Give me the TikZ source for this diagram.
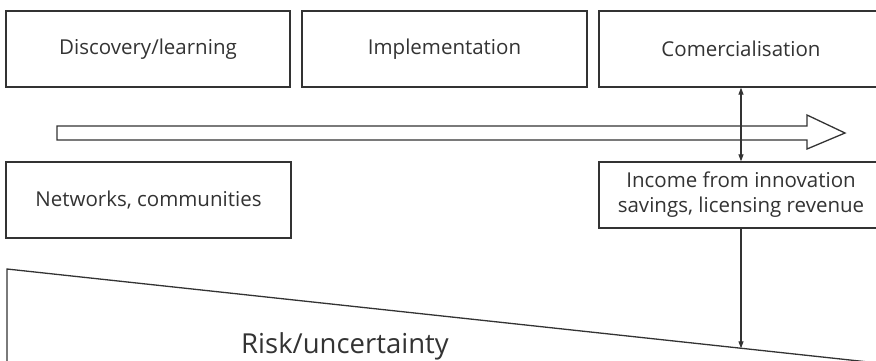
\documentclass[tikz,border=0pt]{standalone}
\usepackage{fontspec}
\setmainfont{Open Sans}
\usetikzlibrary{arrows.meta}
\definecolor{ink}{HTML}{333333}
\begin{document}
\begin{tikzpicture}[x=1pt,y=-1pt,
  box/.style={draw=ink, line width=1.3pt, fill=white, inner sep=0pt,
              align=center, font=\fontsize{20.5}{25}\selectfont, text=ink},
  link/.style={draw=ink, line width=1.1pt,
               arrows={-Triangle[length=7pt,width=5pt]}},
  biglabel/.style={font=\fontsize{27.5}{32}\selectfont, text=ink, inner sep=0pt}]
\useasboundingbox (0,0) rectangle (876,360);
\clip (0,0) rectangle (876,360);

% stage boxes
\node[box, minimum width=284pt, minimum height=76pt] (disc) at (148,49) {Discovery/learning};
\node[box, minimum width=285pt, minimum height=76pt] (impl) at (444.5,49) {Implementation};
\node[box, minimum width=284pt, minimum height=76pt] (comm) at (741,49) {Comercialisation};

% hollow process arrow
\draw[ink, line width=1.3pt, line join=miter]
  (57,126) -- (807,126) -- (807,115) -- (845,133) -- (807,149)
  -- (807,140) -- (57,140) -- cycle;

% lower boxes
\node[box, minimum width=285pt, minimum height=76pt] (net) at (148.5,200) {Networks, communities};
\node[box, minimum width=284pt, minimum height=66pt] (inc) at (741,195)
  {Income from innovation\\savings, licensing revenue};

% risk wedge
\draw[ink, line width=1.3pt] (7,400) -- (7,269) -- (900,365.4);
\coordinate (edge) at (741,348.3);
\node[biglabel, anchor=base west] (risk) at (241,353) {Risk/uncertainty};

% connectors
\draw[link, arrows={Triangle[length=7pt,width=5pt]-Triangle[length=7pt,width=5pt]}]
  (comm.south) -- (inc.north);
\draw[link] (inc.south) -- (edge);
\end{tikzpicture}
\end{document}
